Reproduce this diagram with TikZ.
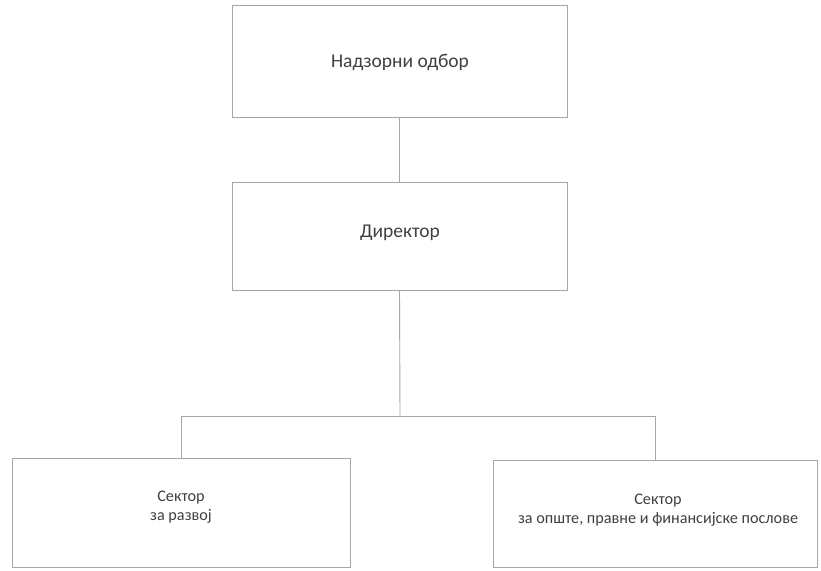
\documentclass[tikz,border=0pt]{standalone}
\usepackage{fontspec}
\setmainfont{Carlito}
\begin{document}
\begin{tikzpicture}[x=1pt,y=-1pt,
  orgbox/.style={draw=black!35, line width=0.9pt, inner sep=0pt},
  bigtxt/.style={font=\fontsize{19.5}{22}\selectfont, text=black!75, align=center},
  smalltxt/.style={font=\fontsize{16.2}{18.5}\selectfont, text=black!75, align=center},
  conn/.style={draw=black!35, line width=0.9pt}]
\useasboundingbox[fill=white] (0,0) rectangle (821,570);
\node[orgbox, minimum width=335pt, minimum height=112pt] (nad) at (399.5,61) {};
\node[bigtxt] (nadT) at (400,62) {Надзорни одбор};
\node[orgbox, minimum width=335pt, minimum height=108pt] (dir) at (399.5,236) {};
\node[bigtxt] (dirT) at (400,233) {Директор};
\node[orgbox, minimum width=338pt, minimum height=109pt] (raz) at (181,512.5) {};
\node[smalltxt] (razT) at (181,507) {Сектор\\за развој};
\node[orgbox, minimum width=324pt, minimum height=107pt] (ops) at (655,513.5) {};
\node[smalltxt] (opsT) at (658,510) {Сектор\\за опште, правне и финансијске послове};
\coordinate (hub) at (400,416);
\draw[conn] (nad) -- (dir);
\draw[conn] (dir.south) -- (hub);
\draw[conn] (raz.north) -- (raz.north |- hub) -- (ops.north |- hub) -- (ops.north);
\end{tikzpicture}
\end{document}
